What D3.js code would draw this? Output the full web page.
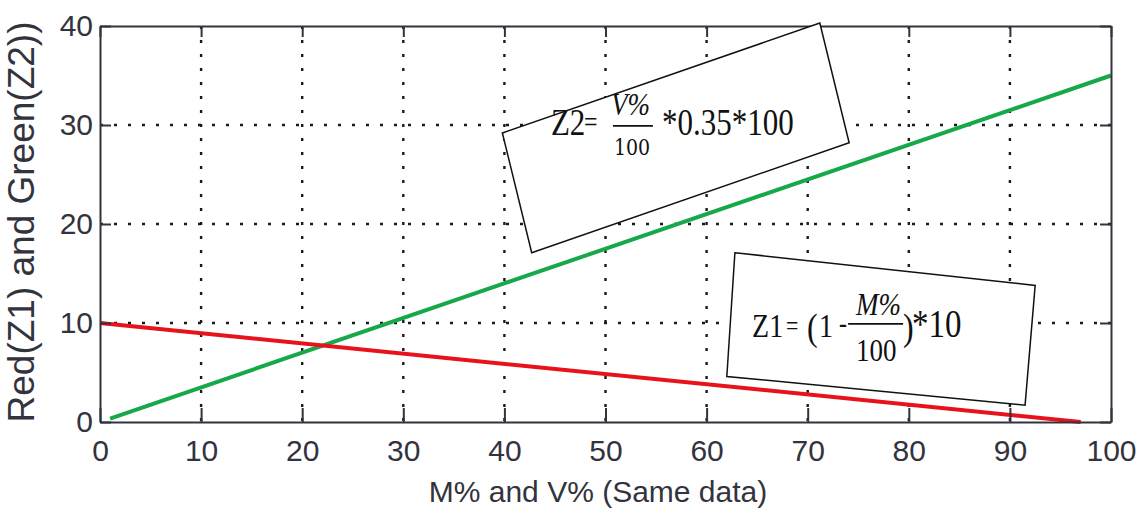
<!DOCTYPE html>
<html>
<head>
<meta charset="utf-8">
<script src="https://cdn.jsdelivr.net/npm/d3@7"></script>
<style>
  body { margin: 0; background: #fff; }
  svg { display: block; }
</style>
</head>
<body>
<div id="chart"></div>
<script>
// values
const mValues = [0, 97];          // M% (red line)
const z1Values = [10, 0];
const vValues = [1, 100];         // V% (green line)
const z2Values = [0.35, 35];
const xTicks = [0, 10, 20, 30, 40, 50, 60, 70, 80, 90, 100];
const yTicks = [0, 10, 20, 30, 40];

// annotation boxes, corners in data units
const z2BoxCorners = [[39.8, 29.2], [71.2, 40.3], [74.1, 28.2], [42.7, 17.1]];
const z1BoxCorners = [[62.8, 17.1], [92.5, 13.8], [91.5, 1.7], [62.0, 4.6]];

const width = 1146, height = 517;
const margin = { top: 26, right: 35, bottom: 95, left: 100 };
const axisColor = '#33333d';
const labelFont = '"Liberation Sans", Arial, sans-serif';
const serif = '"Liberation Serif", "Times New Roman", serif';

const svg = d3.select('#chart').append('svg').attr('width', width).attr('height', height);

const x = d3.scaleLinear().domain([0, 100]).range([margin.left, width - margin.right]);
const y = d3.scaleLinear().domain([0, 40]).range([height - margin.bottom, margin.top]);

// dotted grid
const grid = svg.append('g').attr('class', 'grid')
    .attr('stroke', '#1a1a1a').attr('stroke-width', 2.4).attr('stroke-dasharray', '3,11');
grid.selectAll('line.gx').data(xTicks.slice(1, -1)).enter().append('line')
    .attr('x1', d => x(d)).attr('x2', d => x(d)).attr('y1', y(40)).attr('y2', y(0));
grid.selectAll('line.gy').data(yTicks.slice(1, -1)).enter().append('line')
    .attr('y1', d => y(d)).attr('y2', d => y(d)).attr('x1', x(0)).attr('x2', x(100));

// series
const line = d3.line().x(d => x(d[0])).y(d => y(d[1]));
svg.append('path').datum(d3.zip(vValues, z2Values))
    .attr('fill', 'none').attr('stroke', '#17a84a').attr('stroke-width', 4).attr('d', line);
svg.append('path').datum(d3.zip(mValues, z1Values))
    .attr('fill', 'none').attr('stroke', '#e8121c').attr('stroke-width', 4).attr('d', line);

// axes, matlab style with inward ticks on every side
function styleAxis(g) {
    g.select('.domain').attr('stroke', axisColor).attr('stroke-width', 2);
    g.selectAll('.tick line').attr('stroke', axisColor).attr('stroke-width', 2);
    g.selectAll('.tick text').attr('fill', axisColor).attr('font-family', labelFont).attr('font-size', 30);
}
svg.append('g').attr('transform', `translate(0,${y(0)})`)
    .call(d3.axisBottom(x).tickValues(xTicks).tickSize(-14).tickSizeOuter(0).tickPadding(18))
    .call(styleAxis);
svg.append('g').attr('transform', `translate(0,${y(40)})`)
    .call(d3.axisTop(x).tickValues(xTicks).tickSize(-11).tickSizeOuter(0).tickFormat(''))
    .call(styleAxis);
svg.append('g').attr('transform', `translate(${x(0)},0)`)
    .call(d3.axisLeft(y).tickValues(yTicks).tickSize(-11).tickSizeOuter(0).tickPadding(7))
    .call(styleAxis);
svg.append('g').attr('transform', `translate(${x(100)},0)`)
    .call(d3.axisRight(y).tickValues(yTicks).tickSize(-11).tickSizeOuter(0).tickFormat(''))
    .call(styleAxis);

// axis titles
svg.append('text')
    .attr('x', 598).attr('y', 502)
    .attr('text-anchor', 'middle').attr('fill', axisColor)
    .attr('font-family', labelFont).attr('font-size', 30)
    .text('M% and V% (Same data)');
svg.append('text')
    .attr('transform', `translate(34,${(y(0) + y(40)) / 2 - 2}) rotate(-90)`)
    .attr('text-anchor', 'middle').attr('fill', axisColor)
    .attr('font-family', labelFont).attr('font-size', 37)
    .text('Red(Z1) and Green(Z2))');

// formula boxes
function box(corners) {
    svg.append('polygon')
        .attr('points', corners.map(c => [x(c[0]), y(c[1])].join(',')).join(' '))
        .attr('fill', '#fff').attr('stroke', '#111').attr('stroke-width', 1.5);
}
box(z2BoxCorners);
box(z1BoxCorners);

// formula text is a little taller than Times, so stretch it vertically
function piece(g, txt, dx, dy, size, opts = {}) {
    g.append('text').attr('transform', `translate(${dx},${dy}) scale(1,1.2)`)
        .attr('font-family', opts.family || serif).attr('font-size', size)
        .attr('font-style', opts.italic ? 'italic' : 'normal')
        .attr('fill', '#111').text(txt);
}
function rule(g, x1, x2, yy) {
    g.append('line').attr('x1', x1).attr('x2', x2).attr('y1', yy).attr('y2', yy)
        .attr('stroke', '#111').attr('stroke-width', 1.8);
}

// Z2 = V%/100 *0.35*100
const f2 = svg.append('g').attr('transform', `translate(${x(44.6)},${y(29.0)})`);
piece(f2, 'Z2', 0, 0, 31);
piece(f2, '=', 33, -3, 24);
piece(f2, 'V%', 60, -20, 27, { italic: true });
rule(f2, 62, 102, -9);
piece(f2, '100', 63, 20, 19, { family: '"DejaVu Serif", serif' });
piece(f2, '*0.35*100', 111, 0, 31);

// Z1 = (1 - M%/100)*10
const f1 = svg.append('g').attr('transform', `translate(${x(64.5)},${y(8.6)})`);
piece(f1, 'Z1', 0, 0, 28);
piece(f1, '=', 34, -2, 22);
piece(f1, '(', 55, 3, 32);
piece(f1, '1', 67, 0, 28);
piece(f1, '-', 87, -4, 24);
rule(f1, 96, 151, -13);
piece(f1, 'M%', 104, -22, 27, { italic: true });
piece(f1, '100', 104, 24, 27);
piece(f1, ')', 151, 3, 32);
piece(f1, '*10', 160, 0, 33);
</script>
</body>
</html>
